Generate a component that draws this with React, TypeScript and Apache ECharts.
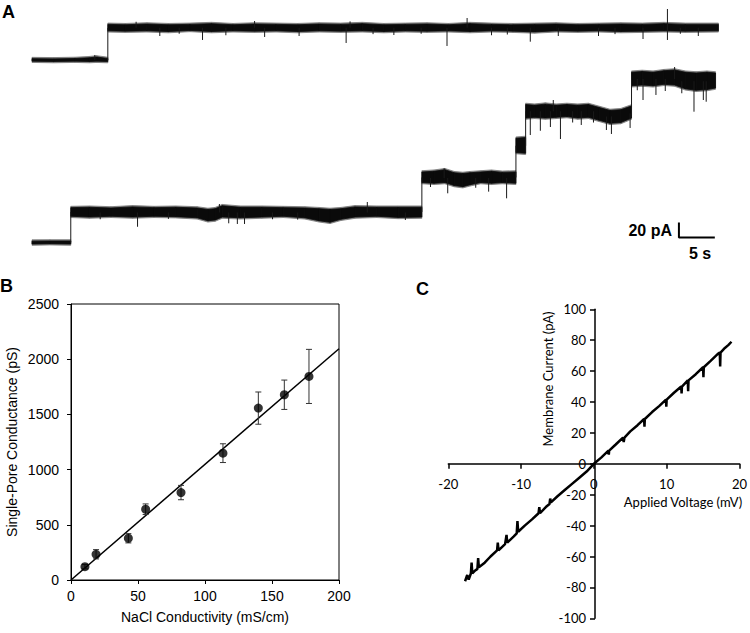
import React, { useEffect, useRef } from "react";
import * as echarts from "echarts";

// ---------- Panel A: single-channel recordings (time in s, current in pA) ----------
// noise envelopes of each conductance level: [t, lowCurrent, highCurrent]
const topBaseline = [[0, -1.5, 1.8], [3, -2, 1.5], [6, -1.5, 2], [8, -2, 3], [9, -1.5, 4], [10.56, -2, 2]];
const topOpen = [
  [10.56, 39, 47.5], [13, 38.5, 47], [16, 39, 48], [19, 38, 47], [22, 39.5, 47.5], [25, 38, 48.5],
  [28, 39, 47], [31, 38.5, 48], [34, 39, 47.5], [37, 38, 47], [40, 39, 48], [43, 38.5, 47.5],
  [46, 39, 48.5], [49, 38, 47], [52, 39, 47.5], [55, 38.5, 48], [58, 39, 47], [61, 38, 48.5],
  [64, 39, 47.5], [67, 38.5, 47], [70, 37.5, 47.5], [73, 39, 48], [76, 38.5, 47], [79, 39, 47.5],
  [82, 38, 48], [85, 38.5, 47.5], [88, 39, 48.5], [91, 38.5, 47.5], [95.6, 39, 47.5],
];
// spikes / transitions: [t, fromCurrent, toCurrent]
const topSpikes = [
  [10.56, 0, 42.7], [8.75, 0, 6.7],
  [23.75, 43, 26.7], [43.75, 43, 22.7], [57.8, 43, 18.7], [69.4, 43, 24.4],
  [85.1, 43, 28], [88.5, 26.7, 68], [17.8, 43, 32], [32.4, 43, 30.7],
  [37.2, 43, 32], [50.4, 43, 33.3], [73.3, 43, 32], [78.9, 43, 32],
  [92.8, 43, 32], [27, 43, 33], [64, 43, 33], [60.6, 43, 56],
  [31, 43, 52], [44.3, 43, 51.5], [14.5, 43, 51], [20.5, 43, 35], [47.5, 43, 34.5],
  [54.2, 43, 35], [66.2, 43, 34], [81.2, 43, 34.5], [90.3, 43, 35],
];
const botBaseline = [[0, -2, 1.8], [2.5, -1.5, 2], [5.4, -2, 2]];
const botLevel1 = [
  [5.4, 35, 46.5], [8, 34, 47], [11, 35, 46], [14, 34, 47.5], [17, 35, 46.5], [20, 34.5, 47],
  [23, 33, 46], [24.5, 29, 44], [25.5, 30, 45], [26.5, 34, 49], [29, 33, 47], [32, 34, 47],
  [35, 35, 46.5], [38, 33, 46], [40, 29, 45], [41.5, 27, 44], [43, 31, 45], [45, 34, 47.5],
  [48, 35, 47], [51, 33.5, 47], [54.3, 34, 47],
];
const botLevel2 = [
  [54.3, 80, 94], [56, 79, 95], [57.5, 80, 97], [58.8, 76, 93], [60, 74.5, 92], [61, 77, 93],
  [62.5, 80, 94], [64, 79, 95], [65.5, 80, 93.5], [67.4, 79, 94],
];
const botLevel3 = [[67.4, 120, 139], [68.75, 119, 140]];
const botLevel4 = [
  [68.75, 166, 184], [70, 167, 183], [71.5, 166, 184.5], [73, 167, 183], [74.5, 168, 184],
  [76, 166, 183], [77.5, 167, 184], [79, 163, 180], [80.5, 159, 176], [82, 160, 177], [83.5, 166, 182],
];
const botLevel5 = [
  [83.5, 209, 227], [85, 210, 228], [86.5, 209, 227], [88, 211, 229], [89.5, 210, 230],
  [91, 205, 227], [92.5, 203, 226], [94, 204, 227], [95.2, 206, 226],
];
const botSpikes = [
  [5.4, 0, 40.7], [54.3, 40.7, 86.7], [67.4, 86.7, 129], [68.75, 129, 175], [83.5, 170, 218],
  [14.7, 40, 21], [27.4, 40, 25.6], [28.6, 40, 24.7], [29.6, 40, 24.7], [52, 40, 30],
  [26.1, 40, 51.3], [46.7, 40, 54], [9.5, 40, 31], [19, 40, 31.5], [33.5, 40, 31], [37, 40, 30.5],
  [57.9, 86, 65.6], [63.6, 86, 67.8], [66.1, 86, 58.9], [57.4, 86, 99], [55.5, 86, 74], [61.8, 86, 73],
  [69.4, 175, 143.3], [70.8, 175, 149], [72.2, 175, 154], [73.6, 175, 138],
  [80, 168, 150], [80.7, 168, 144.7], [83.3, 172, 152.7], [72.6, 175, 190], [76.5, 175, 156.7],
  [75.3, 175, 160], [78.2, 175, 160],
  [85.1, 218, 190], [86.9, 218, 196.7], [90.5, 215, 199], [92.2, 215, 174.4],
  [93.5, 215, 190], [93.9, 215, 187.7], [89.5, 218, 234], [88.2, 218, 202], [84.3, 218, 203],
];
// scale bar: 5 s horizontal, 20 pA vertical
const scaleBar = [[95.1, 6.7], [90.1, 6.7], [90.1, 26.7]];

// ---------- Panel B: conductance vs NaCl conductivity ----------
const nacl = [10.4, 18.7, 42.8, 55.7, 82.1, 113.4, 139.8, 159.2, 177.6];
const conductance = [121, 233, 378, 641, 792, 1149, 1557, 1678, 1844];
const condErr = [20, 42, 42, 48, 65, 85, 146, 133, 245];
const fitLine = [[0, 0], [200, 2095]];

// ---------- Panel C: I-V curve ----------
const ivTrace = [
  [-17.7, -76], [-17.4, -72], [-17.2, -75], [-16.9, -71], [-16.8, -64], [-16.7, -71],
  [-16.3, -69], [-16.0, -68], [-15.9, -61], [-15.8, -67], [-15, -64], [-14.2, -60],
  [-13.3, -56], [-13.2, -51], [-13.1, -56], [-12.2, -52], [-12.0, -46], [-11.9, -51],
  [-11.0, -47], [-10.6, -45], [-10.5, -37], [-10.4, -44], [-9.5, -40], [-8.5, -36],
  [-7.6, -32], [-7.5, -28], [-7.4, -32], [-6.6, -28], [-6.1, -26], [-6.0, -22.5],
  [-5.9, -25], [-5, -21], [-4, -17], [-3, -13], [-2, -9], [-1, -5], [0, 0], [1, 4],
  [2, 8.5], [2.05, 6], [2.1, 8.5], [3, 12.5], [4, 17], [4.1, 14], [4.2, 17], [5, 21],
  [6, 25], [6.9, 29], [6.95, 24], [7, 29], [8, 33.5], [9, 37.5], [9.9, 41.5], [9.95, 37],
  [10, 41.5], [11, 46], [12, 50], [12.05, 45.5], [12.1, 50], [12.9, 54], [12.95, 47],
  [13, 54], [14, 58], [15, 62.5], [15.05, 56], [15.1, 62.5], [16, 66.5], [17, 71],
  [17.3, 72], [17.35, 63], [17.4, 72], [18, 75], [18.5, 77], [18.9, 79],
];

const ARIAL = '"Liberation Sans", Arial, sans-serif';
const CAL = 'Lato, "Open Sans", sans-serif';

// consecutive envelope points -> segments [t0, lo0, hi0, t1, lo1, hi1]
const toSegments = (levels: number[][][]) => {
  const out: number[][] = [];
  levels.forEach((env) => {
    for (let i = 0; i < env.length - 1; i++) out.push([...env[i], ...env[i + 1]]);
  });
  return out;
};

const makeBand = (fuzz: number, color: string) => (_p: any, api: any) => {
  const a = api.coord([api.value(0), api.value(2)]);
  const b = api.coord([api.value(3), api.value(5)]);
  const c = api.coord([api.value(3), api.value(4)]);
  const d = api.coord([api.value(0), api.value(1)]);
  return {
    type: "polygon",
    shape: { points: [[a[0], a[1] - fuzz], [b[0], b[1] - fuzz], [c[0], c[1] + fuzz], [d[0], d[1] + fuzz]] },
    style: { fill: color, stroke: color, lineWidth: 0.8 },
  };
};

function renderSpike(_p: any, api: any) {
  const a = api.coord([api.value(0), api.value(1)]);
  const b = api.coord([api.value(0), api.value(2)]);
  return {
    type: "line",
    shape: { x1: a[0], y1: a[1], x2: b[0], y2: b[1] },
    style: { stroke: "#1a1a1a", lineWidth: 1 },
  };
}

function renderErr(_p: any, api: any) {
  const x = api.value(0);
  const lo = api.coord([x, api.value(1)]);
  const hi = api.coord([x, api.value(2)]);
  const c = 3;
  return {
    type: "group",
    children: [
      { type: "line", shape: { x1: lo[0], y1: lo[1], x2: hi[0], y2: hi[1] }, style: { stroke: "#333", lineWidth: 1 } },
      { type: "line", shape: { x1: lo[0] - c, y1: lo[1], x2: lo[0] + c, y2: lo[1] }, style: { stroke: "#333", lineWidth: 1 } },
      { type: "line", shape: { x1: hi[0] - c, y1: hi[1], x2: hi[0] + c, y2: hi[1] }, style: { stroke: "#333", lineWidth: 1 } },
    ],
  };
}

const hiddenAxis = (gridIndex: number, min: number, max: number) => ({
  gridIndex, type: "value", min, max, show: false,
  splitLine: { show: false }, axisLine: { show: false }, axisTick: { show: false }, axisLabel: { show: false },
});

function txt(text: string, x: number, y: number, font: string, align = "left", vAlign = "top", rotation = 0) {
  return {
    type: "text", x, y, rotation,
    style: {
      text, x: 0, y: 0, font, fill: "#000",
      align, verticalAlign: vAlign, textAlign: align, textVerticalAlign: vAlign,
    },
  };
}

const plain = (v: number) => String(v);

export default function App() {
  const ref = useRef<HTMLDivElement>(null);
  useEffect(() => {
    if (!ref.current) return;
    const chart = echarts.init(ref.current, undefined, { renderer: "svg" });
    const bAxisCommon = {
      axisLine: { show: true, onZero: false, lineStyle: { color: "#000", width: 1 } },
      axisTick: { show: true, inside: false, length: 4, lineStyle: { color: "#000", width: 1 } },
      splitLine: { show: false },
      nameLocation: "middle",
      nameTextStyle: { color: "#000", fontSize: 14, fontFamily: ARIAL },
    };
    const cAxisCommon = {
      axisLine: { show: true, onZero: false, lineStyle: { color: "#000", width: 1.5 } },
      axisTick: { show: true, inside: false, length: 5, lineStyle: { color: "#000", width: 1.5 } },
      splitLine: { show: false },
    };
    const cW = 293.4;
    const cH = 309;
    const topSeg = toSegments([topBaseline, topOpen]);
    const botSeg = toSegments([botBaseline, botLevel1, botLevel2, botLevel3, botLevel4, botLevel5]);
    const bandEnc = { x: [0, 3], y: [1, 2, 4, 5] };
    chart.setOption({
      animation: false,
      backgroundColor: "#fff",
      grid: [
        { left: 32, top: 0, width: 720, height: 75 },
        { left: 32, top: 55, width: 720, height: 202.5 },
        { left: 71, top: 304, width: 268, height: 276, show: true, borderColor: "#000", borderWidth: 1 },
        { left: 448.3, top: 309.3, width: cW, height: cH },
      ],
      xAxis: [
        hiddenAxis(0, 0, 100),
        hiddenAxis(1, 0, 100),
        {
          gridIndex: 2, type: "value", min: 0, max: 200, interval: 50, ...bAxisCommon,
          axisLabel: { color: "#000", fontSize: 14, fontFamily: ARIAL, margin: 9, formatter: plain },
          name: "NaCl Conductivity (mS/cm)", nameGap: 30,
        },
        {
          gridIndex: 3, type: "value", min: -20, max: 20, interval: 10, ...cAxisCommon,
          position: "bottom", offset: -cH / 2,
          axisLabel: { color: "#000", fontSize: 13, fontFamily: CAL, margin: 14, formatter: plain },
        },
      ],
      yAxis: [
        hiddenAxis(0, -20, 80),
        hiddenAxis(1, -20, 250),
        {
          gridIndex: 2, type: "value", min: 0, max: 2500, interval: 500, ...bAxisCommon,
          axisLabel: { color: "#000", fontSize: 14, fontFamily: ARIAL, margin: 12, formatter: plain },
          name: "Single-Pore Conductance (pS)", nameGap: 52,
        },
        {
          gridIndex: 3, type: "value", min: -100, max: 100, interval: 20, ...cAxisCommon,
          position: "left", offset: -cW / 2,
          axisLabel: { color: "#000", fontSize: 13, fontFamily: CAL, margin: 9, formatter: plain },
        },
      ],
      series: [
        { type: "custom", xAxisIndex: 0, yAxisIndex: 0, data: topSeg, encode: bandEnc, renderItem: makeBand(1.3, "#777"), z: 1 },
        { type: "custom", xAxisIndex: 0, yAxisIndex: 0, data: topSeg, encode: bandEnc, renderItem: makeBand(0, "#0a0a0a"), z: 2 },
        { type: "custom", xAxisIndex: 0, yAxisIndex: 0, data: topSpikes, encode: { x: 0, y: [1, 2] }, renderItem: renderSpike, z: 3 },
        { type: "custom", xAxisIndex: 1, yAxisIndex: 1, data: botSeg, encode: bandEnc, renderItem: makeBand(1.3, "#777"), z: 1 },
        { type: "custom", xAxisIndex: 1, yAxisIndex: 1, data: botSeg, encode: bandEnc, renderItem: makeBand(0, "#0a0a0a"), z: 2 },
        { type: "custom", xAxisIndex: 1, yAxisIndex: 1, data: botSpikes, encode: { x: 0, y: [1, 2] }, renderItem: renderSpike, z: 3 },
        {
          type: "line", xAxisIndex: 1, yAxisIndex: 1, data: scaleBar, showSymbol: false, symbol: "none",
          lineStyle: { color: "#000", width: 2 },
        },
        {
          type: "line", xAxisIndex: 2, yAxisIndex: 2, data: fitLine, showSymbol: false, symbol: "none",
          lineStyle: { color: "#000", width: 1.5 }, z: 2,
        },
        {
          type: "custom", xAxisIndex: 2, yAxisIndex: 2,
          data: nacl.map((x, i) => [x, conductance[i] - condErr[i], conductance[i] + condErr[i]]),
          encode: { x: 0, y: [1, 2] }, renderItem: renderErr, z: 3,
        },
        {
          type: "scatter", xAxisIndex: 2, yAxisIndex: 2, data: nacl.map((x, i) => [x, conductance[i]]),
          symbol: "circle", symbolSize: 9, itemStyle: { color: "#000" }, z: 4,
        },
        {
          type: "line", xAxisIndex: 3, yAxisIndex: 3, data: ivTrace, showSymbol: false, symbol: "none",
          lineStyle: { color: "#000", width: 2.5 },
        },
      ],
      graphic: [
        txt("A", 2, 3, `bold 18px ${ARIAL}`),
        txt("B", 0, 277, `bold 18px ${ARIAL}`),
        txt("C", 416, 280, `bold 18px ${ARIAL}`),
        txt("20 pA", 672, 230, `bold 16px ${ARIAL}`, "right", "middle"),
        txt("5 s", 700, 253, `bold 16px ${ARIAL}`, "center", "middle"),
        txt("Membrane Current (pA)", 548, 379, `13px ${CAL}`, "center", "middle", Math.PI / 2),
        txt("Applied Voltage (mV)", 683, 502, `13px ${CAL}`, "center", "middle"),
      ],
    });
    return () => chart.dispose();
  }, []);
  return <div ref={ref} style={{ position: "fixed", left: 0, top: 0, width: 750, height: 633 }} />;
}
